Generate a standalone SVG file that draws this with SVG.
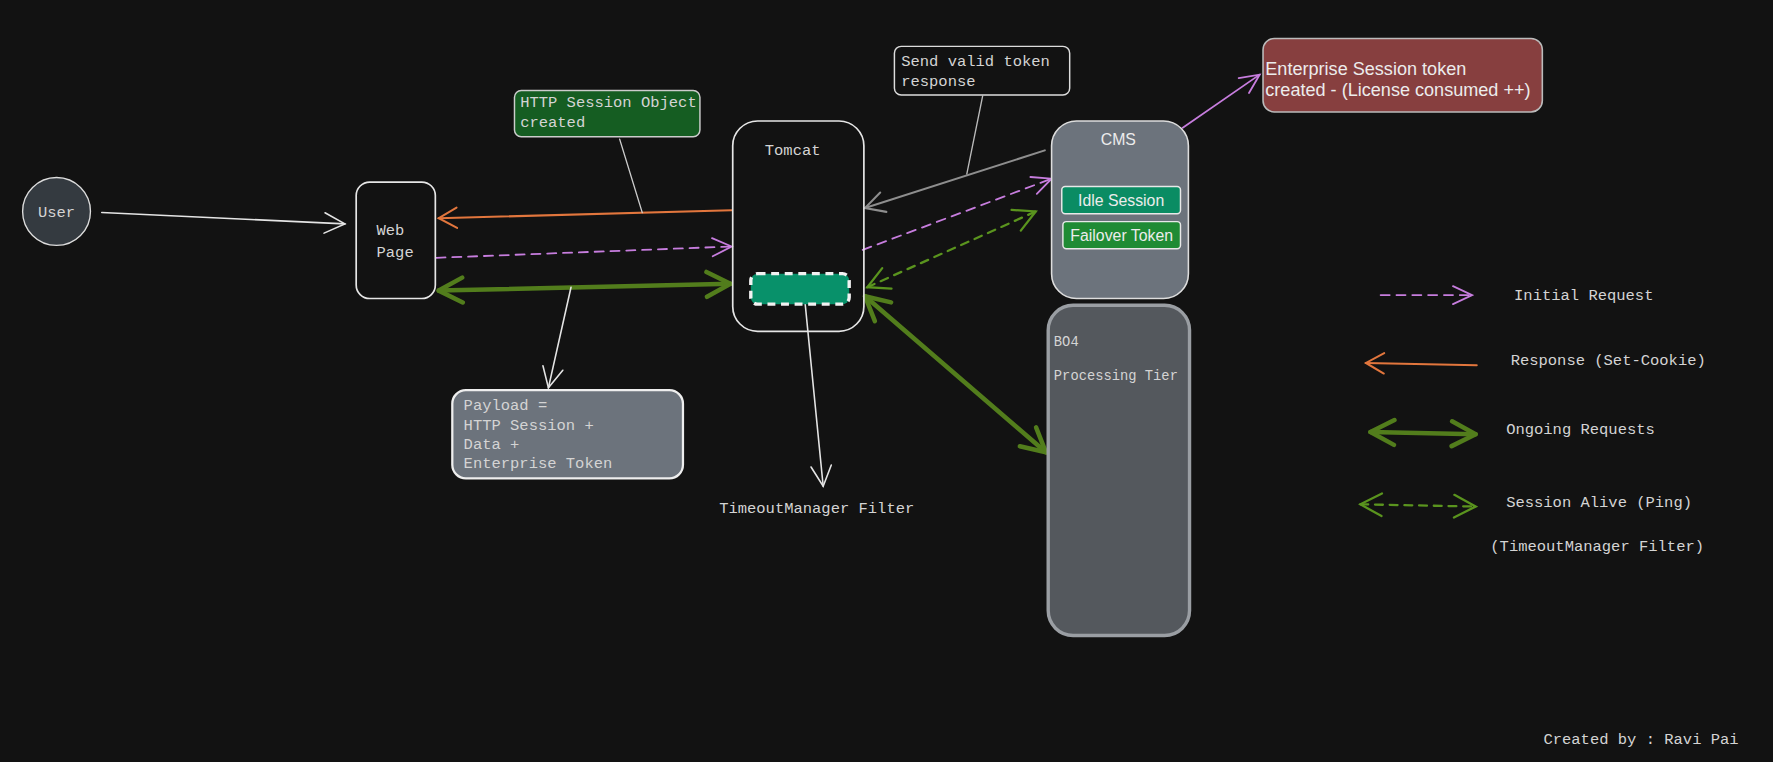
<svg xmlns="http://www.w3.org/2000/svg" width="1773" height="762" viewBox="0 0 1773 762">
<defs>
<style>
.t{font-family:"Liberation Mono","DejaVu Sans Mono",monospace;font-size:13.7px;fill:#d4d4d4}
.t2{font-family:"Liberation Mono","DejaVu Sans Mono",monospace;font-size:12.2px;fill:#d4d4d4}
.s{font-family:"Liberation Sans",Arial,sans-serif;fill:#ececec}
.ln{fill:none;stroke-linecap:round}
.w{stroke:#e4e4e4;stroke-width:1.4}
.o{stroke:#e2763d;stroke-width:1.8}
.p{stroke:#c77dde;stroke-width:1.6;stroke-dasharray:8 6}
.ps{stroke:#c77dde;stroke-width:1.6}
.g{stroke:#527d1c;stroke-width:4}
.gd{stroke:#5a941e;stroke-width:2;stroke-dasharray:7 6}
.gr{stroke:#8e8e8e;stroke-width:1.8}
</style>
<marker id="mW" viewBox="-20 -12 22 24" refX="0" refY="0" markerWidth="22" markerHeight="24" orient="auto-start-reverse" markerUnits="userSpaceOnUse"><path d="M-18,-9 L0,0 L-18,9" fill="none" stroke="#e4e4e4" stroke-width="1.4" stroke-linecap="round"/></marker>
<marker id="mO" viewBox="-20 -12 22 24" refX="0" refY="0" markerWidth="22" markerHeight="24" orient="auto-start-reverse" markerUnits="userSpaceOnUse"><path d="M-16,-9 L0,0 L-16,9" fill="none" stroke="#e2763d" stroke-width="1.8" stroke-linecap="round"/></marker>
<marker id="mP" viewBox="-20 -12 22 24" refX="0" refY="0" markerWidth="22" markerHeight="24" orient="auto-start-reverse" markerUnits="userSpaceOnUse"><path d="M-17,-8 L0,0 L-17,8" fill="none" stroke="#c77dde" stroke-width="1.6" stroke-linecap="round"/></marker>
<marker id="mG" viewBox="-26 -15 28 30" refX="0" refY="0" markerWidth="28" markerHeight="30" orient="auto-start-reverse" markerUnits="userSpaceOnUse"><path d="M-21,-11 L0,0 L-21,11" fill="none" stroke="#527d1c" stroke-width="4" stroke-linecap="round" stroke-linejoin="round"/></marker>
<marker id="mGd" viewBox="-22 -13 24 26" refX="0" refY="0" markerWidth="24" markerHeight="26" orient="auto-start-reverse" markerUnits="userSpaceOnUse"><path d="M-19,-10 L0,0 L-19,10" fill="none" stroke="#5a941e" stroke-width="2" stroke-linecap="round"/></marker>
<marker id="mGr" viewBox="-20 -12 22 24" refX="0" refY="0" markerWidth="22" markerHeight="24" orient="auto-start-reverse" markerUnits="userSpaceOnUse"><path d="M-17,-9 L0,0 L-17,9" fill="none" stroke="#8e8e8e" stroke-width="1.8" stroke-linecap="round"/></marker>
</defs>
<rect width="1773" height="762" fill="#121212"/>
<g transform="scale(1.13074)">
<g id="connectors">
<path class="ln w" d="M90,188 L305,198" marker-end="url(#mW)"/>
<path class="ln o" d="M647,186 L388,193" marker-end="url(#mO)"/>
<path class="ln p" d="M386,228 L647,218" marker-end="url(#mP)"/>
<path class="ln g" d="M388,257 L646,251" marker-start="url(#mG)" marker-end="url(#mG)"/>
<path class="ln" d="M548,123 L568,188" stroke="#cccccc" stroke-width="1.2"/>
<path class="ln w" d="M712,268 L728,430" marker-end="url(#mW)"/>
<path class="ln w" d="M505,254 L485,343" marker-end="url(#mW)"/>
<path class="ln" d="M869,85 L855,154" stroke="#bbbbbb" stroke-width="1.2"/>
<path class="ln gr" d="M924,133 L765,184" marker-end="url(#mGr)"/>
<path class="ln p" d="M763,221 L930,158" marker-end="url(#mP)"/>
<path class="ln gd" d="M767,254 L916,187" marker-start="url(#mGd)" marker-end="url(#mGd)"/>
<path class="ln g" d="M765,262 L925,400" marker-start="url(#mG)" marker-end="url(#mG)"/>
<path class="ln ps" d="M1046,113 L1114,66" marker-end="url(#mP)"/>
<path class="ln p" d="M1221,261 L1302,261" marker-end="url(#mP)"/>
<path class="ln o" d="M1306,323 L1208,321" marker-end="url(#mO)"/>
<path class="ln g" d="M1212,382 L1305,384" marker-start="url(#mG)" marker-end="url(#mG)"/>
<path class="ln gd" d="M1203,446 L1305,448" marker-start="url(#mGd)" marker-end="url(#mGd)"/>
</g>
<g id="user">
<circle cx="50" cy="187" r="30" fill="#343a40" stroke="#dddddd" stroke-width="1.2"/>
<text class="t" x="50" y="191.5" text-anchor="middle">User</text>
</g>
<g id="webpage">
<rect x="315" y="161" width="70" height="103" rx="12" fill="none" stroke="#e6e6e6" stroke-width="1.5"/>
<text class="t" x="333" y="208">Web</text>
<text class="t" x="333" y="227">Page</text>
</g>
<g id="http-session-note">
<rect x="455" y="80" width="164" height="41" rx="6" fill="#155d22" stroke="#cccccc" stroke-width="1.3"/>
<text class="t" x="460" y="95">HTTP Session Object</text>
<text class="t" x="460" y="112">created</text>
</g>
<g id="tomcat">
<rect x="648" y="107" width="116" height="186" rx="22" fill="none" stroke="#e6e6e6" stroke-width="1.5"/>
<text class="t" x="701" y="137" text-anchor="middle">Tomcat</text>
</g>
<g id="timeout-filter">
<rect x="664" y="242" width="87" height="27" rx="6" fill="#08916a" stroke="#f2f2f2" stroke-width="3" stroke-dasharray="7 5"/>
</g>
<g id="timeout-label">
<text class="t" x="636" y="454">TimeoutManager Filter</text>
</g>
<g id="send-token-note">
<rect x="791" y="41" width="155" height="43" rx="6" fill="none" stroke="#dddddd" stroke-width="1.3"/>
<text class="t" x="797" y="58">Send valid token</text>
<text class="t" x="797" y="76">response</text>
</g>
<g id="cms">
<rect x="930" y="107" width="121" height="157" rx="22" fill="#6c737c" stroke="#dddddd" stroke-width="1.4"/>
<text class="s" x="989" y="128" text-anchor="middle" font-size="14">CMS</text>
</g>
<g id="idle-session">
<rect x="939" y="165" width="105" height="24" rx="3" fill="#0a8c63" stroke="#e8e8e8" stroke-width="1.3"/>
<text class="s" x="991.5" y="182" text-anchor="middle" font-size="14">Idle Session</text>
</g>
<g id="failover-token">
<rect x="940" y="196" width="104" height="24" rx="3" fill="#1f8b34" stroke="#e8e8e8" stroke-width="1.3"/>
<text class="s" x="992" y="213" text-anchor="middle" font-size="14">Failover Token</text>
</g>
<g id="enterprise-token">
<rect x="1117" y="34" width="247" height="65" rx="10" fill="#873f3f" stroke="#bbbbbb" stroke-width="1.4"/>
<text class="s" x="1119" y="66" font-size="16">Enterprise Session token</text>
<text class="s" x="1119" y="85" font-size="16">created - (License consumed ++)</text>
</g>
<g id="bo4">
<rect x="927" y="270" width="125" height="292" rx="22" fill="#54585d" stroke="#9a9ea3" stroke-width="3"/>
<text class="t2" x="932" y="306">BO4</text>
<text class="t2" x="932" y="336">Processing Tier</text>
</g>
<g id="payload">
<rect x="400" y="345" width="204" height="78" rx="12" fill="#6c737c" stroke="#eeeeee" stroke-width="2"/>
<text class="t" x="410" y="363">Payload =</text>
<text class="t" x="410" y="380">HTTP Session +</text>
<text class="t" x="410" y="397">Data +</text>
<text class="t" x="410" y="414">Enterprise Token</text>
</g>
<g id="legend">
<text class="t" x="1339" y="265">Initial Request</text>
<text class="t" x="1336" y="323">Response (Set-Cookie)</text>
<text class="t" x="1332" y="384">Ongoing Requests</text>
<text class="t" x="1332" y="448">Session Alive (Ping)</text>
<text class="t" x="1318" y="487">(TimeoutManager Filter)</text>
</g>
<g id="credit">
<text class="t" x="1365" y="658">Created by : Ravi Pai</text>
</g>
</g>
</svg>
